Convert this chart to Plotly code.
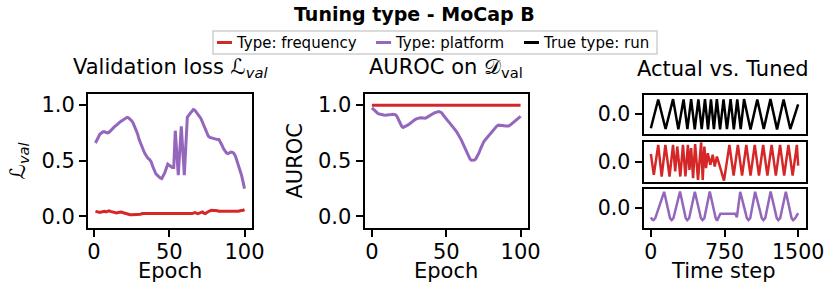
import plotly.graph_objects as go

# ---------------- data ----------------
epochs_loss = list(range(1, 101))
loss_platform = [
    0.66, 0.69, 0.72, 0.74, 0.75, 0.76, 0.76, 0.755, 0.75, 0.755,
    0.77, 0.79, 0.80, 0.81, 0.82, 0.835, 0.845, 0.855, 0.865, 0.875,
    0.885, 0.89, 0.885, 0.875, 0.86, 0.84, 0.81, 0.78, 0.74, 0.69,
    0.65, 0.62, 0.59, 0.56, 0.535, 0.52, 0.51, 0.49, 0.45, 0.41,
    0.385, 0.37, 0.355, 0.345, 0.34, 0.36, 0.39, 0.43, 0.47, 0.46,
    0.445, 0.44, 0.44, 0.77, 0.57, 0.37, 0.59, 0.81, 0.59, 0.37,
    0.63, 0.89, 0.91, 0.93, 0.95, 0.96, 0.955, 0.94, 0.92, 0.90,
    0.88, 0.85, 0.82, 0.78, 0.75, 0.72, 0.71, 0.705, 0.705, 0.70,
    0.695, 0.69, 0.69, 0.67, 0.64, 0.61, 0.585, 0.57, 0.565, 0.575,
    0.578, 0.575, 0.565, 0.54, 0.50, 0.46, 0.42, 0.37, 0.31, 0.25,
]
loss_frequency = [
    0.045, 0.04, 0.035, 0.035, 0.04, 0.045, 0.045, 0.04, 0.045, 0.05,
    0.045, 0.04, 0.035, 0.03, 0.03, 0.035, 0.04, 0.04, 0.035, 0.03,
    0.025, 0.02, 0.02, 0.015, 0.015, 0.015, 0.02, 0.02, 0.02, 0.02,
    0.02, 0.025, 0.025, 0.025, 0.025, 0.025, 0.025, 0.02, 0.02, 0.02,
    0.025, 0.025, 0.025, 0.025, 0.025, 0.025, 0.025, 0.025, 0.025, 0.025,
    0.025, 0.02, 0.02, 0.02, 0.02, 0.02, 0.02, 0.02, 0.02, 0.02,
    0.02, 0.02, 0.02, 0.025, 0.025, 0.03, 0.035, 0.03, 0.025, 0.03,
    0.035, 0.04, 0.03, 0.025, 0.035, 0.045, 0.05, 0.055, 0.055, 0.05,
    0.05, 0.05, 0.045, 0.045, 0.04, 0.045, 0.045, 0.04, 0.045, 0.045,
    0.04, 0.045, 0.045, 0.045, 0.04, 0.045, 0.05, 0.05, 0.055, 0.06,
]

epochs_auroc = list(range(0, 101))
auroc_frequency = [1.0] * 101
auroc_platform = [
    0.975, 0.96, 0.945, 0.93, 0.925, 0.92, 0.915, 0.913, 0.912, 0.91, 0.91,
    0.91, 0.912, 0.915, 0.917, 0.917, 0.913, 0.895, 0.87, 0.84, 0.81,
    0.80, 0.805, 0.815, 0.82, 0.828, 0.84, 0.852, 0.862, 0.87, 0.876,
    0.882, 0.885, 0.886, 0.884, 0.882, 0.883, 0.89, 0.90, 0.91, 0.915,
    0.922, 0.93, 0.935, 0.94, 0.942, 0.938, 0.93, 0.91, 0.89, 0.875,
    0.86, 0.845, 0.83, 0.81, 0.795, 0.778, 0.76, 0.74, 0.715, 0.69,
    0.66, 0.63, 0.595, 0.56, 0.535, 0.515, 0.505, 0.503, 0.507, 0.52,
    0.54, 0.57, 0.605, 0.64, 0.665, 0.685, 0.70, 0.715, 0.735, 0.755,
    0.77, 0.785, 0.80, 0.812, 0.82, 0.82, 0.817, 0.815, 0.814, 0.812,
    0.81, 0.812, 0.82, 0.83, 0.842, 0.855, 0.866, 0.876, 0.888, 0.90,
]

# time series (vertices)
run_t = [0, 75, 150, 226, 280, 333, 372, 410, 447, 484, 518, 551, 582, 612, 642,
         672, 705, 740, 775, 812, 845, 880, 915, 949, 1015, 1084, 1150, 1218,
         1285, 1352, 1420, 1500]
run_v = [-0.85, 0.9, -0.9, 0.92, -0.92, 0.9, -0.9, 0.92, -0.92, 0.9, -0.9, 0.92,
         -0.92, 0.9, -0.9, 0.92, -0.92, 0.9, -0.9, 0.92, -0.92, 0.9, -0.9, 0.92,
         -0.92, 0.9, -0.9, 0.92, -0.92, 0.9, -0.9, 0.6]

freq_t = [0, 30, 75, 110, 148, 190, 226, 248, 269, 300, 327, 352, 377, 393, 410,
          430, 451, 480, 512, 528, 545, 562, 580, 605, 630, 650, 673, 700, 745,
          800, 843, 886, 929, 972, 1015, 1058, 1101, 1144, 1187, 1230, 1273,
          1316, 1358, 1401, 1444, 1487, 1500]
freq_v = [0.45, -0.8, 1.0, -0.9, 1.0, -0.9, 1.0, -0.6, 0.9, -0.9, 1.0, -0.9,
          1.0, -0.5, 0.8, -1.0, 1.05, -1.1, 1.15, -1.1, 0.9, -0.4, 0.5, -0.2,
          0.4, -0.3, 0.3, -0.2, -1.15, 1.0, -0.85, 1.0, -0.85, 1.0, -0.85, 1.0,
          -0.85, 1.0, -0.85, 1.0, -0.85, 1.0, -0.85, 1.0, -0.85, 1.0, -0.25]

plat_t = [0, 15, 27, 45, 135, 195, 212, 230, 297, 355, 371, 390, 448, 510, 526,
          545, 600, 660, 674, 708, 860, 876, 910, 978, 994, 1012, 1062, 1130,
          1146, 1165, 1220, 1282, 1298, 1317, 1375, 1433, 1449, 1470, 1500]
plat_v = [-0.55, -0.7, -0.72, -0.6, 1.0, -0.6, -0.72, -0.6, 1.02, -0.6, -0.72,
          -0.6, 1.0, -0.6, -0.72, -0.6, 1.02, -0.6, -0.75, -0.33, -0.33, -0.55,
          1.0, -0.6, -0.72, -0.6, 1.0, -0.6, -0.72, -0.6, 1.02, -0.6, -0.72,
          -0.6, 1.0, -0.6, -0.72, -0.6, -0.3]

loss_ticks = [0.0, 0.5, 1.0]
loss_ticklabels = ["0.0", "0.5", "1.0"]
epoch_ticks = [0, 50, 100]
time_ticks = [0, 750, 1500]

legend_labels = ["Type: frequency", "Type: platform", "True type: run"]

RED = "#d62728"
PURPLE = "#9467bd"
W, H = 827, 291
FONT = "DejaVu Sans"


def dx(a, b):
    return [a / W, b / W]


def dy(top, bottom):
    return [1 - bottom / H, 1 - top / H]


def px(x):
    return x / W


def py(y):
    return 1 - y / H


fig = go.Figure()

fig.add_trace(go.Scatter(x=epochs_loss, y=loss_frequency, mode="lines", name=legend_labels[0],
                         line=dict(color=RED, width=3), xaxis="x", yaxis="y"))
fig.add_trace(go.Scatter(x=epochs_loss, y=loss_platform, mode="lines", name=legend_labels[1],
                         line=dict(color=PURPLE, width=3), xaxis="x", yaxis="y"))
fig.add_trace(go.Scatter(x=epochs_auroc, y=auroc_frequency, mode="lines", name=legend_labels[0],
                         line=dict(color=RED, width=3), xaxis="x2", yaxis="y2"))
fig.add_trace(go.Scatter(x=epochs_auroc, y=auroc_platform, mode="lines", name=legend_labels[1],
                         line=dict(color=PURPLE, width=3), xaxis="x2", yaxis="y2"))
fig.add_trace(go.Scatter(x=run_t, y=run_v, mode="lines", name=legend_labels[2],
                         line=dict(color="black", width=2.5), xaxis="x3", yaxis="y3"))
fig.add_trace(go.Scatter(x=freq_t, y=freq_v, mode="lines", name=legend_labels[0],
                         line=dict(color=RED, width=2.5), xaxis="x4", yaxis="y4"))
fig.add_trace(go.Scatter(x=plat_t, y=plat_v, mode="lines", name=legend_labels[1],
                         line=dict(color=PURPLE, width=2.5), xaxis="x5", yaxis="y5"))

TICKF = dict(size=21, color="black", family=FONT)
TICKF3 = dict(size=20.5, color="black", family=FONT)
LABF = dict(size=21, color="black", family=FONT)
axis_common = dict(showline=True, mirror=True, linecolor="black", linewidth=2,
                   ticks="outside", ticklen=7, tickwidth=2, tickcolor="black",
                   showgrid=False, zeroline=False, automargin=False, tickfont=TICKF)
xcommon = {**axis_common, "ticklabelstandoff": -3}
axis3 = {**axis_common, "tickfont": TICKF3}
x3common = {**axis3, "ticklabelstandoff": -3}
no_ticks = {**axis3, "ticks": ""}

P1 = dx(88, 252)
P2 = dx(364.5, 528)
P3 = dx(643.5, 805.5)
YMAIN = dy(94, 227.5)

fig.update_layout(
    xaxis=dict(domain=P1, range=[-3.95, 104.95], tickvals=epoch_ticks, anchor="y", **xcommon),
    yaxis=dict(domain=YMAIN, range=[-0.1, 1.1], tickvals=loss_ticks, ticktext=loss_ticklabels,
               anchor="x", title=dict(text="ℒ<sub><i>val</i></sub>", font=LABF, standoff=10),
               **axis_common),
    xaxis2=dict(domain=P2, range=[-5, 105], tickvals=epoch_ticks, anchor="y2", **xcommon),
    yaxis2=dict(domain=YMAIN, range=[-0.1, 1.1], tickvals=loss_ticks, ticktext=loss_ticklabels,
                anchor="x2", title=dict(text="AUROC", font=LABF, standoff=10), **axis_common),
    xaxis3=dict(domain=P3, range=[-75, 1575], anchor="y3", showticklabels=False, **no_ticks),
    yaxis3=dict(domain=dy(94.5, 134), range=[-1.2, 1.2], tickvals=[0], ticktext=["0.0"],
                anchor="x3", **axis3),
    xaxis4=dict(domain=P3, range=[-75, 1575], anchor="y4", showticklabels=False, **no_ticks),
    yaxis4=dict(domain=dy(141.5, 181.5), range=[-1.2, 1.2], tickvals=[0], ticktext=["0.0"],
                anchor="x4", **axis3),
    xaxis5=dict(domain=P3, range=[-75, 1575], tickvals=time_ticks, anchor="y5", **x3common),
    yaxis5=dict(domain=dy(188.5, 228), range=[-1.2, 1.2], tickvals=[0], ticktext=["0.0"],
                anchor="x5", **axis3),
)

# titles and x-axis labels
annots = [
    dict(text="<b>Tuning type - MoCap B</b>", x=px(414), y=py(27), font=dict(size=19)),
    dict(text="Validation loss ℒ<sub><i>val</i></sub>", x=px(170), y=py(83), font=dict(size=21)),
    dict(text="AUROC on 𝒟<sub>val</sub>", x=px(446), y=py(83), font=dict(size=21)),
    dict(text="Actual vs. Tuned", x=px(723), y=py(83), font=dict(size=21)),
    dict(text="Epoch", x=px(170), y=py(285), font=LABF),
    dict(text="Epoch", x=px(446), y=py(285), font=LABF),
    dict(text="Time step", x=px(723), y=py(285), font=LABF),
]
annotations = [dict(xref="paper", yref="paper", showarrow=False, xanchor="center",
                    yanchor="bottom", **a) for a in annots]

# legend box (drawn by hand to match the compact matplotlib legend)
LEG_Y = 42.5
leg_items = [(217, 232, RED, legend_labels[0]),
             (376, 391, PURPLE, legend_labels[1]),
             (524, 539, "black", legend_labels[2])]
shapes = [dict(type="rect", xref="paper", yref="paper", x0=px(213), x1=px(657), y0=py(54), y1=py(31),
               line=dict(color="#cfcfcf", width=1.5), fillcolor="white", layer="above")]
for x0, x1, col, lab in leg_items:
    shapes.append(dict(type="line", xref="paper", yref="paper", x0=px(x0), x1=px(x1),
                       y0=py(LEG_Y), y1=py(LEG_Y), line=dict(color=col, width=3), layer="above"))
    annotations.append(dict(xref="paper", yref="paper", showarrow=False, xanchor="left",
                            yanchor="middle", x=px(x1 + 2), y=py(LEG_Y), text=lab,
                            font=dict(size=15, color="black", family=FONT)))

fig.update_layout(
    annotations=annotations,
    shapes=shapes,
    width=W, height=H,
    margin=dict(l=0, r=0, t=0, b=0),
    paper_bgcolor="white", plot_bgcolor="white",
    font=dict(family=FONT, color="black"),
    showlegend=False,
)

fig.write_html("out.html", config={"displayModeBar": False},
               post_script="document.body.style.margin='0';")
